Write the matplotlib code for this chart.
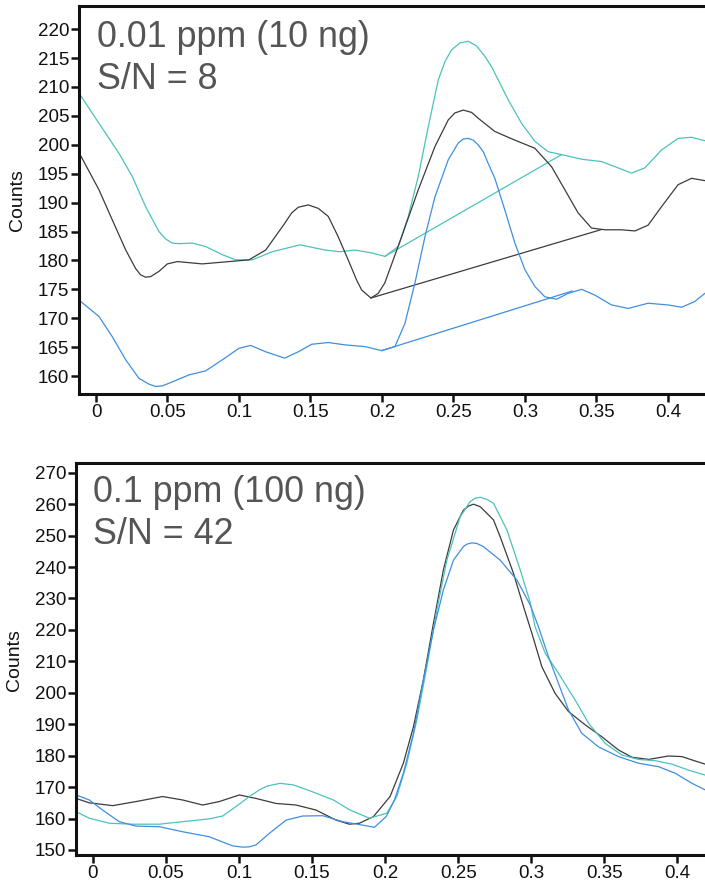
import numpy as np
import matplotlib.pyplot as plt

plt.rcParams['font.family'] = ['Liberation Sans', 'DejaVu Sans']

# ---- top panel : 0.01 ppm (10 ng) ----
top_black_x = [-0.0107, 0.0021, 0.0114, 0.0208, 0.0277, 0.0312, 0.0347, 0.0382, 0.044, 0.0499, 0.0569,
               0.0743, 0.093, 0.107, 0.1187, 0.132, 0.1368, 0.1415, 0.1485, 0.1555, 0.1625, 0.1694,
               0.1764, 0.1823, 0.1858, 0.1923, 0.1974, 0.202, 0.2138, 0.2254, 0.2371, 0.2464, 0.251,
               0.2569, 0.2627, 0.2673, 0.279, 0.293, 0.307, 0.3187, 0.328, 0.3373, 0.3466, 0.356,
               0.3676, 0.377, 0.3862, 0.3956, 0.4072, 0.4166, 0.4259]
top_black_y = [198.1, 192.2, 187.0, 181.8, 178.6, 177.5, 177.1, 177.2, 178.1, 179.4, 179.8,
               179.4, 179.8, 180.1, 181.8, 186.4, 188.2, 189.2, 189.6, 189.0, 187.6, 184.1,
               180.1, 176.6, 174.9, 173.5, 174.3, 176.1, 184.1, 192.2, 199.7, 204.3, 205.5,
               206.0, 205.6, 204.6, 202.3, 200.8, 199.4, 196.2, 192.2, 188.2, 185.6, 185.3,
               185.3, 185.1, 186.1, 189.3, 193.1, 194.2, 193.8]
top_black_base_x = [0.1923, 0.353]
top_black_base_y = [173.5, 185.3]

top_cyan_x = [-0.0107, 0.0021, 0.0161, 0.0254, 0.0347, 0.044, 0.0487, 0.0534, 0.058, 0.0673, 0.0767,
              0.0883, 0.0977, 0.1093, 0.1233, 0.1427, 0.1601, 0.1706, 0.1811, 0.1928, 0.2021, 0.2114,
              0.2184, 0.2254, 0.2324, 0.2394, 0.2441, 0.2487, 0.2545, 0.2604, 0.2662, 0.272, 0.2767,
              0.2883, 0.2977, 0.307, 0.3163, 0.3257, 0.3397, 0.3536, 0.3653, 0.3746, 0.3839, 0.3956,
              0.4072, 0.4166, 0.4259]
top_cyan_y = [208.5, 203.7, 198.5, 194.5, 189.3, 185.0, 183.7, 183.0, 182.9, 183.0, 182.4,
              181.0, 180.1, 180.1, 181.5, 182.7, 181.8, 181.5, 181.8, 181.3, 180.7, 182.4,
              187.6, 194.5, 203.1, 211.2, 214.4, 216.4, 217.6, 217.9, 217.1, 215.3, 213.5,
              207.8, 203.7, 200.6, 198.8, 198.3, 197.5, 197.1, 196.0, 195.1, 196.0, 199.1,
              201.1, 201.3, 200.7]
top_cyan_base_x = [0.2021, 0.3257]
top_cyan_base_y = [180.7, 198.3]

top_blue_x = [-0.0107, 0.0021, 0.0114, 0.0208, 0.0301, 0.0371, 0.0417, 0.0464, 0.0534, 0.065, 0.0767,
              0.0883, 0.1, 0.1082, 0.1187, 0.132, 0.1415, 0.1508, 0.1625, 0.1741, 0.1881, 0.1998,
              0.2091, 0.2161, 0.2231, 0.2301, 0.2371, 0.2464, 0.2534, 0.2569, 0.2604, 0.2639, 0.2673,
              0.2709, 0.2743, 0.279, 0.286, 0.293, 0.3, 0.307, 0.314, 0.3222, 0.3303, 0.3397,
              0.349, 0.3606, 0.3723, 0.3862, 0.4002, 0.4096, 0.4189, 0.4259]
top_blue_y = [172.9, 170.3, 166.8, 162.8, 159.6, 158.6, 158.2, 158.3, 159.0, 160.2, 160.9,
              162.8, 164.8, 165.3, 164.2, 163.1, 164.2, 165.5, 165.8, 165.4, 165.1, 164.4,
              165.1, 169.1, 176.1, 184.1, 191.0, 197.4, 200.3, 201.0, 201.1, 200.8, 200.0,
              198.8, 196.8, 194.2, 188.7, 183.0, 178.4, 175.5, 173.7, 173.3, 174.3, 175.0,
              174.0, 172.3, 171.7, 172.6, 172.3, 171.9, 172.9, 174.3]
top_blue_base_x = [0.1998, 0.333]
top_blue_base_y = [164.4, 174.7]

# ---- bottom panel : 0.1 ppm (100 ng) ----
bot_black_x = [-0.0116, -0.0025, 0.0135, 0.0295, 0.0477, 0.0614, 0.0751, 0.0865, 0.1002, 0.1116,
               0.1253, 0.139, 0.1527, 0.1664, 0.1755, 0.1824, 0.192, 0.2034, 0.2125, 0.2194, 0.2262,
               0.2331, 0.2399, 0.2468, 0.2536, 0.2571, 0.2605, 0.2651, 0.2697, 0.2742, 0.2788,
               0.2879, 0.2947, 0.3005, 0.3073, 0.3164, 0.3256, 0.337, 0.3484, 0.3598, 0.369, 0.3804,
               0.394, 0.4032, 0.4123, 0.4192]
bot_black_y = [166.4, 165.0, 164.1, 165.4, 167.0, 165.9, 164.3, 165.4, 167.5, 166.4,
               164.8, 164.3, 162.7, 159.5, 158.2, 158.5, 160.6, 167.0, 177.6, 189.2, 204.1,
               222.1, 239.1, 251.8, 258.1, 259.4, 260.0, 259.2, 257.1, 255.0, 249.6,
               238.0, 227.5, 218.9, 208.3, 199.8, 194.0, 189.8, 186.0, 181.8, 179.5, 178.8,
               179.9, 179.7, 178.3, 177.3]

bot_cyan_x = [-0.0116, -0.0025, 0.0112, 0.0272, 0.0454, 0.0614, 0.0797, 0.0888, 0.0979, 0.1071,
              0.1139, 0.119, 0.1281, 0.1372, 0.1486, 0.1646, 0.176, 0.1893, 0.2012, 0.208, 0.2149,
              0.2217, 0.2286, 0.2354, 0.2423, 0.2514, 0.2582, 0.2616, 0.2651, 0.2697, 0.2742,
              0.2834, 0.2925, 0.2993, 0.3027, 0.3096, 0.3187, 0.3301, 0.3393, 0.3507, 0.3621,
              0.3735, 0.3849, 0.3964, 0.4077, 0.4192]
bot_cyan_y = [162.2, 160.1, 158.5, 158.2, 158.2, 159.0, 159.9, 160.8, 163.8, 167.0,
              169.1, 170.3, 171.2, 170.7, 168.8, 165.9, 162.7, 160.1, 161.7, 167.0, 177.6,
              191.3, 208.3, 226.3, 242.2, 256.0, 260.8, 261.9, 262.2, 261.5, 260.3,
              251.8, 239.1, 228.8, 221.0, 212.6, 206.2, 197.7, 190.3, 183.9, 180.2,
              178.8, 178.4, 177.3, 175.4, 173.8]

bot_blue_x = [-0.0116, -0.0025, 0.0066, 0.018, 0.0295, 0.0454, 0.0614, 0.0797, 0.0911, 0.0957,
              0.1025, 0.1071, 0.1116, 0.1208, 0.1322, 0.1436, 0.1573, 0.171, 0.1847, 0.1927,
              0.2007, 0.2064, 0.2125, 0.2194, 0.2262, 0.2331, 0.2399, 0.2468, 0.2536, 0.256,
              0.2594, 0.2628, 0.2673, 0.2788, 0.2902, 0.2993, 0.305, 0.3118, 0.3187, 0.3256,
              0.3347, 0.3461, 0.3598, 0.3735, 0.3872, 0.3986, 0.4101, 0.4192]
bot_blue_y = [167.5, 165.9, 162.7, 159.0, 157.6, 157.4, 155.8, 154.2, 152.1, 151.3,
              150.9, 151.0, 151.6, 155.3, 159.5, 160.8, 160.9, 159.0, 157.9, 157.2,
              160.6, 165.9, 174.4, 187.1, 204.1, 220.0, 232.7, 242.2, 246.5, 247.3,
              247.7, 247.5, 246.5, 242.2, 235.9, 228.0, 221.0, 211.5, 203.0, 194.5,
              187.1, 182.8, 179.7, 177.6, 176.5, 174.4, 171.2, 169.1]

xticks = [0, 0.05, 0.1, 0.15, 0.2, 0.25, 0.3, 0.35, 0.4]
xticklabels = ['0', '0.05', '0.1', '0.15', '0.2', '0.25', '0.3', '0.35', '0.4']
top_yticks = [160, 165, 170, 175, 180, 185, 190, 195, 200, 205, 210, 215, 220]
bot_yticks = [150, 160, 170, 180, 190, 200, 210, 220, 230, 240, 250, 260, 270]

c_black = '#3c3c3c'
c_cyan = '#4cc2bd'
c_blue = '#3f8fe0'
lw = 0.9

fig = plt.figure(figsize=(7.05, 8.85), dpi=100)
ax1 = fig.add_axes([79/705, 1-394/885, 1-79/705, (394-6)/885])
ax2 = fig.add_axes([76/705, 0.0339, 1-76/705, (855-462.7)/885])

ax1.plot(top_cyan_x, top_cyan_y, color=c_cyan, lw=lw)
ax1.plot(top_cyan_base_x, top_cyan_base_y, color=c_cyan, lw=lw)
ax1.plot(top_black_x, top_black_y, color=c_black, lw=lw)
ax1.plot(top_black_base_x, top_black_base_y, color=c_black, lw=lw)
ax1.plot(top_blue_x, top_blue_y, color=c_blue, lw=lw)
ax1.plot(top_blue_base_x, top_blue_base_y, color=c_blue, lw=lw)

ax2.plot(bot_black_x, bot_black_y, color=c_black, lw=lw)
ax2.plot(bot_cyan_x, bot_cyan_y, color=c_cyan, lw=lw)
ax2.plot(bot_blue_x, bot_blue_y, color=c_blue, lw=lw)

ax1.set_xlim(-0.0119, 0.426)
ax1.set_ylim(156.9, 224.0)
ax2.set_xlim(-0.0116, 0.419)
ax2.set_ylim(148.4, 273.2)

for ax, yt in [(ax1, top_yticks), (ax2, bot_yticks)]:
    ax.set_xticks(xticks)
    ax.set_xticklabels(xticklabels)
    ax.set_yticks(yt)
    ax.tick_params(direction='out', length=6, width=1.8, labelsize=13.5, pad=1, colors='#111111')
    ax.spines['right'].set_visible(False)
    for s in ['left', 'top', 'bottom']:
        ax.spines[s].set_linewidth(2.2)
        ax.spines[s].set_color('#111111')
    ax.set_ylabel('Counts', fontsize=14, color='#111111')

# y label position = right edge of the rotated text
ax1.yaxis.set_label_coords(-0.085, 0.5)
ax2.yaxis.set_label_coords(-0.084, 0.497)

ax1.text(0.0288, 0.895, '0.01 ppm (10 ng)', transform=ax1.transAxes, fontsize=25.8, color='#555555', va='baseline')
ax1.text(0.0288, 0.785, 'S/N = 8', transform=ax1.transAxes, fontsize=25.8, color='#555555', va='baseline')
ax2.text(0.0275, 0.9006, '0.1 ppm (100 ng)', transform=ax2.transAxes, fontsize=25.8, color='#555555', va='baseline')
ax2.text(0.0275, 0.7928, 'S/N = 42', transform=ax2.transAxes, fontsize=25.8, color='#555555', va='baseline')

fig.savefig('out.png', dpi=100)
